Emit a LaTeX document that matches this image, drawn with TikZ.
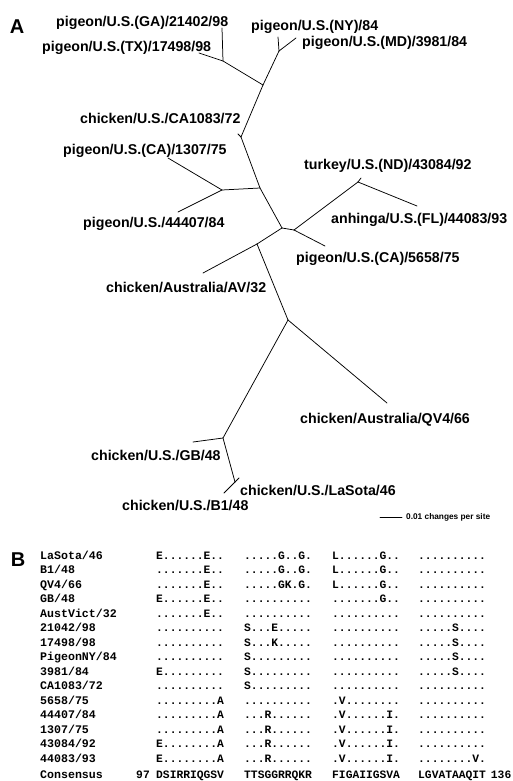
\documentclass[tikz,border=0pt]{standalone}
\usepackage{fontspec}
\setmainfont{Liberation Sans}
\newfontfamily\seqfont{Liberation Mono}

\begin{document}
\begin{tikzpicture}[x=1pt,y=-1pt,
  branch/.style={line width=0.75pt, line cap=round, line join=round},
  taxon/.style={anchor=base west, inner sep=0pt, font=\fontsize{14.2}{16}\selectfont\bfseries},
  panel/.style={inner sep=0pt, font=\fontsize{20}{22}\selectfont\bfseries},
  scaletext/.style={anchor=west, inner sep=0pt, font=\fontsize{8.3}{9}\selectfont\bfseries},
  seqname/.style={anchor=base west, inner sep=0pt, font=\seqfont\fontsize{11.6}{13}\selectfont\bfseries},
  seqblock/.style={anchor=base west, inner sep=0pt, font=\seqfont\fontsize{11.3}{13}\selectfont\bfseries},
]
% canvas
\fill[white] (0,0) rectangle (512,781);
\useasboundingbox (0,0) rectangle (512,781);

% ---------------- panel A: unrooted tree ----------------
\node[panel] (labA) at (17,27) {A};

% internal nodes
\coordinate (n1)  at (223,61);
\coordinate (n2)  at (263,85);
\coordinate (n3)  at (279,51);
\coordinate (n4)  at (241,137);
\coordinate (n5)  at (260,188);
\coordinate (n6)  at (222,190);
\coordinate (n7)  at (282,228);
\coordinate (n8)  at (294,230);
\coordinate (n9)  at (358,182);
\coordinate (n10) at (257,244);
\coordinate (n11) at (288,320);
\coordinate (n12) at (223,438);
\coordinate (n13) at (235,482);

% tips
\coordinate (tGA)      at (222,28);
\coordinate (tTX)      at (199,53);
\coordinate (tNY)      at (278,37);
\coordinate (tMD)      at (296,38);
\coordinate (tCA1083)  at (238,134);
\coordinate (t1307)    at (168,158);
\coordinate (t44407)   at (178,212);
\coordinate (tTurkey)  at (361,178);
\coordinate (tAnhinga) at (417,206);
\coordinate (t5658)    at (325,246);
\coordinate (tAV)      at (203,273);
\coordinate (tQV4)     at (387,403);
\coordinate (tGB)      at (193,442);
\coordinate (tLaSota)  at (239,478);
\coordinate (tB1)      at (224,493);

% branches
\draw[branch] (tGA) -- (n1);
\draw[branch] (tTX) -- (n1);
\draw[branch] (n1) -- (n2);
\draw[branch] (tNY) -- (n3);
\draw[branch] (tMD) -- (n3);
\draw[branch] (n3) -- (n2);
\draw[branch] (n2) -- (n4);
\draw[branch] (n4) -- (tCA1083);
\draw[branch] (n4) -- (n5);
\draw[branch] (n5) -- (n6);
\draw[branch] (n6) -- (t1307);
\draw[branch] (n6) -- (t44407);
\draw[branch] (n5) -- (n7);
\draw[branch] (n7) -- (n8);
\draw[branch] (n8) -- (t5658);
\draw[branch] (n8) -- (n9);
\draw[branch] (n9) -- (tTurkey);
\draw[branch] (n9) -- (tAnhinga);
\draw[branch] (n7) -- (n10);
\draw[branch] (n10) -- (tAV);
\draw[branch] (n10) -- (n11);
\draw[branch] (n11) -- (tQV4);
\draw[branch] (n11) -- (n12);
\draw[branch] (n12) -- (tGB);
\draw[branch] (n12) -- (n13);
\draw[branch] (n13) -- (tLaSota);
\draw[branch] (n13) -- (tB1);

% taxon labels
\node[taxon] (lGA)      at (56,27)   {pigeon/U.S.(GA)/21402/98};
\node[taxon] (lTX)      at (42,52)   {pigeon/U.S.(TX)/17498/98};
\node[taxon] (lNY)      at (251,31)  {pigeon/U.S.(NY)/84};
\node[taxon] (lMD)      at (302,47)  {pigeon/U.S.(MD)/3981/84};
\node[taxon] (lCA1083)  at (80,124)  {chicken/U.S./CA1083/72};
\node[taxon] (l1307)    at (63,154)  {pigeon/U.S.(CA)/1307/75};
\node[taxon] (lTurkey)  at (304,169) {turkey/U.S.(ND)/43084/92};
\node[taxon] (lAnhinga) at (331,223) {anhinga/U.S.(FL)/44083/93};
\node[taxon] (l44407)   at (83,227)  {pigeon/U.S./44407/84};
\node[taxon] (l5658)    at (296,262) {pigeon/U.S.(CA)/5658/75};
\node[taxon] (lAV)      at (106,292) {chicken/Australia/AV/32};
\node[taxon] (lQV4)     at (300,423) {chicken/Australia/QV4/66};
\node[taxon] (lGB)      at (91,460)  {chicken/U.S./GB/48};
\node[taxon] (lLaSota)  at (240,495) {chicken/U.S./LaSota/46};
\node[taxon] (lB1)      at (122,510) {chicken/U.S./B1/48};

% scale bar
\coordinate (sb0) at (380,517);
\coordinate (sb1) at (402,517);
\draw[branch] (sb0) -- (sb1);
\node[scaletext] (sbtext) at (406,517) {0.01 changes per site};

% ---------------- panel B: alignment ----------------
\node[panel] (labB) at (18,560) {B};

\newcommand\alignrow[6]{%
  \node[seqname]  (row#1-n)  at (40,559+14.5*#1)  {#2};
  \node[seqblock] (row#1-b1) at (156,559+14.5*#1) {#3};
  \node[seqblock] (row#1-b2) at (244,559+14.5*#1) {#4};
  \node[seqblock] (row#1-b3) at (332,559+14.5*#1) {#5};
  \node[seqblock] (row#1-b4) at (418,559+14.5*#1) {#6};
}

\alignrow{0}{LaSota/46}  {E......E..}{.....G..G.}{L......G..}{..........}
\alignrow{1}{B1/48}      {.......E..}{.....G..G.}{L......G..}{..........}
\alignrow{2}{QV4/66}     {.......E..}{.....GK.G.}{L......G..}{..........}
\alignrow{3}{GB/48}      {E......E..}{..........}{.......G..}{..........}
\alignrow{4}{AustVict/32}{.......E..}{..........}{..........}{..........}
\alignrow{5}{21042/98}   {..........}{S...E.....}{..........}{.....S....}
\alignrow{6}{17498/98}   {..........}{S...K.....}{..........}{.....S....}
\alignrow{7}{PigeonNY/84}{..........}{S.........}{..........}{.....S....}
\alignrow{8}{3981/84}    {E.........}{S.........}{..........}{.....S....}
\alignrow{9}{CA1083/72}  {..........}{S.........}{..........}{..........}
\alignrow{10}{5658/75}   {.........A}{..........}{.V........}{..........}
\alignrow{11}{44407/84}  {.........A}{...R......}{.V......I.}{..........}
\alignrow{12}{1307/75}   {.........A}{...R......}{.V......I.}{..........}
\alignrow{13}{43084/92}  {E........A}{...R......}{.V......I.}{..........}
\alignrow{14}{44083/93}  {E........A}{...R......}{.V......I.}{........V.}

% consensus line
\node[seqname]  (consName) at (40,778)  {Consensus};
\node[seqblock, anchor=base east] (consStart) at (150,778) {97};
\node[seqblock] (cons1) at (156,778) {DSIRRIQGSV};
\node[seqblock] (cons2) at (244,778) {TTSGGRRQKR};
\node[seqblock] (cons3) at (332,778) {FIGAIIGSVA};
\node[seqblock] (cons4) at (418,778) {LGVATAAQIT};
\node[seqblock, anchor=base east] (consEnd) at (511.5,778) {136};
\end{tikzpicture}
\end{document}
